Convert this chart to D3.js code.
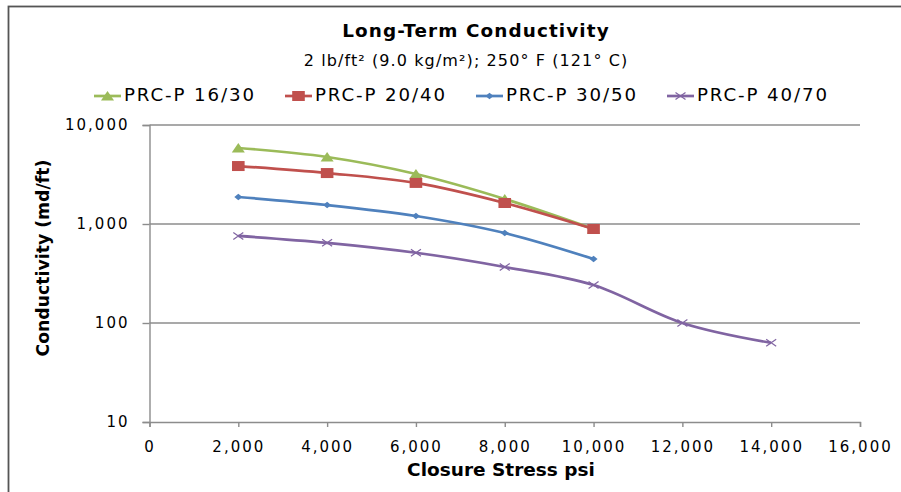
<!DOCTYPE html>
<html lang="en">
    <head>
        <meta charset="utf-8" />
        <title>Long-Term Conductivity</title>
        <style>
            body { margin: 0; background: #fff; }
            svg text { font-family: "DejaVu Sans", Verdana, sans-serif; fill: #000; }
            .tick text { font-size: 15px; letter-spacing: 2px; }
        </style>
        <script src="https://cdn.jsdelivr.net/npm/d3@7/dist/d3.min.js"></script>
    </head>
    <body>
        <script>
            // closure stress, psi
            var stress = [2000, 4000, 6000, 8000, 10000, 12000, 14000];

            var seriesNames = ['PRC-P 16/30', 'PRC-P 20/40', 'PRC-P 30/50', 'PRC-P 40/70'];
            var prc1630 = [5860, 4750, 3200, 1790, 890];
            var prc2040 = [3850, 3270, 2600, 1630, 890];
            var prc3050 = [1875, 1555, 1205, 810, 443];
            var prc4070 = [757, 645, 512, 368, 242, 100, 63];

            var xTicks = [0, 2000, 4000, 6000, 8000, 10000, 12000, 14000, 16000];
            var yTicks = [10, 100, 1000, 10000];

            var colors = ['#9bbb59', '#c0504d', '#4f81bd', '#8064a2'];
            var markers = ['triangle', 'square', 'diamond', 'cross'];

            var width = 901, height = 492;

            var series = [prc1630, prc2040, prc3050, prc4070].map(function(vals, i) {
                return {
                    name: seriesNames[i],
                    color: colors[i],
                    marker: markers[i],
                    points: vals.map(function(v, j) { return {x: stress[j], y: v}; })
                };
            });

            var x = d3.scaleLinear().domain([0, 16000]).range([149.5, 860]);
            var y = d3.scaleLog().domain([10, 10000]).range([422, 125]);

            var svg = d3.select('body').append('svg')
                .attr('width', width)
                .attr('height', height);

            // chart border (right and bottom edges fall outside the picture)
            svg.append('rect')
                .attr('x', 8.5).attr('y', 6.5)
                .attr('width', 1000).attr('height', 600)
                .attr('fill', 'none')
                .attr('stroke', '#555')
                .attr('stroke-width', 1.8);

            // gridlines
            svg.append('g')
                .selectAll('line')
                .data(yTicks.slice(1))
                .enter().append('line')
                .attr('x1', x(0)).attr('x2', x(16000))
                .attr('y1', function(d) { return y(d); })
                .attr('y2', function(d) { return y(d); })
                .attr('stroke', '#8c8c8c')
                .attr('stroke-width', 1.4);

            var fmt = d3.format(',');

            var xAxis = svg.append('g')
                .attr('transform', 'translate(0,' + y(10) + ')')
                .call(d3.axisBottom(x).tickValues(xTicks).tickFormat(fmt).tickSize(5).tickPadding(14));

            var yAxis = svg.append('g')
                .attr('transform', 'translate(' + x(0) + ',0)')
                .call(d3.axisLeft(y).tickValues(yTicks).tickFormat(fmt).tickSize(7).tickPadding(13));

            [xAxis, yAxis].forEach(function(a) {
                a.select('.domain').attr('stroke', '#8c8c8c').attr('stroke-width', 1.4);
                a.selectAll('.tick line').attr('stroke', '#8c8c8c').attr('stroke-width', 1.4);
                a.selectAll('.tick text').attr('fill', '#000');
            });

            // smoothed lines
            var line = d3.line()
                .x(function(d) { return x(d.x); })
                .y(function(d) { return y(d.y); })
                .curve(d3.curveCardinal.tension(0));

            svg.append('g')
                .selectAll('path')
                .data(series)
                .enter().append('path')
                .attr('d', function(d) { return line(d.points); })
                .attr('fill', 'none')
                .attr('stroke', function(d) { return d.color; })
                .attr('stroke-width', 2.7);

            function drawMarker(g, type, color) {
                if (type === 'triangle') {
                    g.append('path').attr('d', 'M0,-5L6.5,4.5L-6.5,4.5Z').attr('fill', color);
                } else if (type === 'square') {
                    g.append('rect').attr('x', -6.3).attr('y', -5).attr('width', 12.6).attr('height', 10).attr('fill', color);
                } else if (type === 'diamond') {
                    g.append('path').attr('d', 'M0,-3.3L4,0L0,3.3L-4,0Z').attr('fill', color);
                } else {
                    g.append('path').attr('d', 'M-5,-3.5L5,3.5M-5,3.5L5,-3.5').attr('stroke', color).attr('stroke-width', 1.2);
                }
            }

            series.forEach(function(s) {
                s.points.forEach(function(p) {
                    var g = svg.append('g').attr('transform', 'translate(' + x(p.x) + ',' + y(p.y) + ')');
                    drawMarker(g, s.marker, s.color);
                });
            });

            // titles
            svg.append('text')
                .attr('x', 476).attr('y', 37)
                .attr('text-anchor', 'middle')
                .style('font-size', '18.4px').style('font-weight', 'bold')
                .style('letter-spacing', '1.1px')
                .text('Long-Term Conductivity');

            svg.append('text')
                .attr('x', 466).attr('y', 66)
                .attr('text-anchor', 'middle')
                .style('font-size', '16px')
                .style('letter-spacing', '1.1px')
                .text('2 lb/ft² (9.0 kg/m²); 250° F (121° C)');

            // legend
            var legendX = [94, 285, 476, 667];
            var legend = svg.append('g')
                .selectAll('g')
                .data(series)
                .enter().append('g')
                .attr('transform', function(d, i) { return 'translate(' + legendX[i] + ',96)'; });

            legend.append('line')
                .attr('x1', 0).attr('x2', 27)
                .attr('stroke', function(d) { return d.color; })
                .attr('stroke-width', 2.7);

            legend.each(function(d) {
                var g = d3.select(this).append('g').attr('transform', 'translate(13.5,0)');
                drawMarker(g, d.marker, d.color);
            });

            legend.append('text')
                .attr('x', 30).attr('y', 5)
                .style('font-size', '18.2px')
                .style('letter-spacing', '1.9px')
                .text(function(d) { return d.name; });

            // axis titles
            svg.append('text')
                .attr('x', 501).attr('y', 476)
                .attr('text-anchor', 'middle')
                .style('font-size', '18.5px').style('font-weight', 'bold')
                .text('Closure Stress psi');

            svg.append('text')
                .attr('transform', 'translate(49,258) rotate(-90)')
                .attr('text-anchor', 'middle')
                .style('font-size', '17.3px').style('font-weight', 'bold')
                .text('Conductivity (md/ft)');
        </script>
    </body>
</html>
